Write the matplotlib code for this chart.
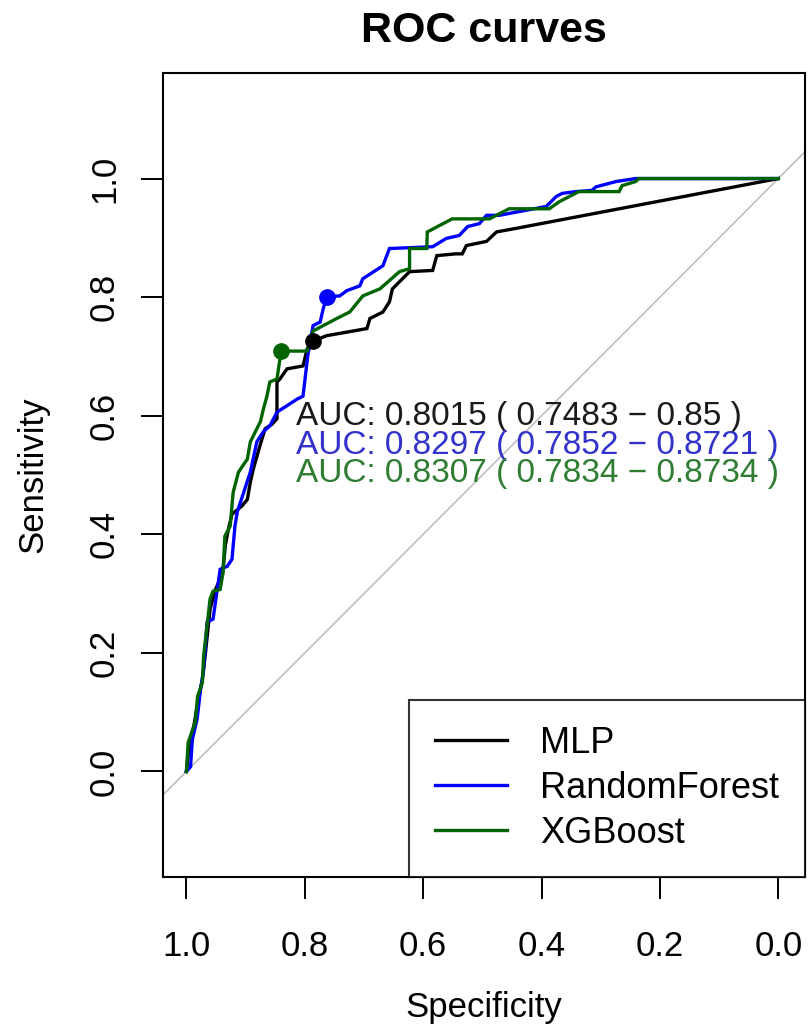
import matplotlib
matplotlib.use("Agg")
import matplotlib.pyplot as plt

plt.rcParams['font.family'] = ['Liberation Sans', 'DejaVu Sans']

# ---- data (specificity, sensitivity) ----
mlp_spec = [1.0, 0.995, 0.987, 0.980, 0.973, 0.968, 0.960, 0.951, 0.939, 0.934, 0.929, 0.923,
            0.906, 0.897, 0.892, 0.887, 0.875, 0.867, 0.855, 0.847, 0.847, 0.842, 0.830, 0.803,
            0.796, 0.786, 0.763, 0.695, 0.690, 0.668, 0.657, 0.652, 0.635, 0.623, 0.584, 0.577,
            0.545, 0.534, 0.527, 0.493, 0.476, 0.443, 0.0]
mlp_sens = [0.0, 0.046, 0.079, 0.122, 0.155, 0.198, 0.274, 0.307, 0.333, 0.383, 0.409, 0.434,
            0.448, 0.459, 0.488, 0.510, 0.552, 0.578, 0.586, 0.595, 0.657, 0.662, 0.679, 0.684,
            0.713, 0.726, 0.735, 0.747, 0.764, 0.775, 0.792, 0.814, 0.831, 0.843, 0.845, 0.870,
            0.873, 0.873, 0.887, 0.894, 0.910, 0.916, 1.0]

rf_spec = [1.0, 0.993, 0.990, 0.982, 0.976, 0.971, 0.965, 0.955, 0.943, 0.931, 0.923, 0.918,
           0.914, 0.892, 0.881, 0.870, 0.859, 0.847, 0.830, 0.813, 0.803, 0.795, 0.786, 0.774,
           0.769, 0.763, 0.741, 0.729, 0.707, 0.702, 0.668, 0.657, 0.584, 0.561, 0.539, 0.525,
           0.505, 0.493, 0.471, 0.392, 0.375, 0.365, 0.342, 0.315, 0.308, 0.274, 0.241, 0.0]
rf_sens = [0.0, 0.008, 0.054, 0.088, 0.139, 0.172, 0.252, 0.257, 0.341, 0.346, 0.358, 0.414,
           0.438, 0.505, 0.556, 0.573, 0.583, 0.606, 0.617, 0.628, 0.633, 0.701, 0.752, 0.758,
           0.780, 0.801, 0.802, 0.811, 0.819, 0.831, 0.853, 0.882, 0.885, 0.899, 0.904, 0.919,
           0.924, 0.938, 0.938, 0.953, 0.970, 0.975, 0.978, 0.980, 0.986, 0.995, 1.0, 1.0]

xgb_spec = [1.0, 0.997, 0.985, 0.981, 0.973, 0.971, 0.960, 0.955, 0.943, 0.938, 0.935, 0.926,
            0.921, 0.912, 0.897, 0.892, 0.875, 0.870, 0.864, 0.859, 0.847, 0.840, 0.796, 0.786,
            0.746, 0.724, 0.702, 0.673, 0.640, 0.623, 0.623, 0.594, 0.593, 0.572, 0.551, 0.488,
            0.455, 0.387, 0.370, 0.337, 0.269, 0.264, 0.241, 0.236, 0.0]
xgb_sens = [0.0, 0.049, 0.083, 0.127, 0.150, 0.194, 0.291, 0.304, 0.307, 0.336, 0.397, 0.414,
            0.471, 0.505, 0.527, 0.556, 0.590, 0.611, 0.633, 0.657, 0.662, 0.709, 0.709, 0.743,
            0.764, 0.775, 0.802, 0.814, 0.843, 0.848, 0.882, 0.882, 0.910, 0.921, 0.932, 0.932,
            0.949, 0.949, 0.961, 0.978, 0.978, 0.988, 0.995, 1.0, 1.0]

models = ['MLP', 'RandomForest', 'XGBoost']
colors = ['black', 'blue', '#006400']
best_spec = [0.786, 0.763, 0.840]
best_sens = [0.726, 0.801, 0.709]
auc_labels = ['AUC: 0.8015 ( 0.7483 \u2212 0.85 )',
              'AUC: 0.8297 ( 0.7852 \u2212 0.8721 )',
              'AUC: 0.8307 ( 0.7834 \u2212 0.8734 )']
auc_text_colors = ['#1a1a1a', '#3333cc', '#2e7d32']
xticks = [1.0, 0.8, 0.6, 0.4, 0.2, 0.0]
yticks = [0.0, 0.2, 0.4, 0.6, 0.8, 1.0]

fig = plt.figure(figsize=(8.10, 10.34), dpi=100)
ax = fig.add_axes([0.2009, 0.1518, 0.7929, 0.7776])

ax.set_xlim(1.04, -0.045)
ax.set_ylim(-0.178, 1.178)

# diagonal reference line
ax.plot([1.2, -0.2], [-0.2, 1.2], color='#bebebe', lw=1.2, zorder=1)

curves = [(mlp_spec, mlp_sens), (rf_spec, rf_sens), (xgb_spec, xgb_sens)]
for (sp, se), c, m in zip(curves, colors, models):
    ax.plot(sp, se, color=c, lw=2.4, label=m, zorder=3, solid_joinstyle='miter')

for bs, bz, c in zip(best_spec, best_sens, colors):
    ax.plot([bs], [bz], 'o', color=c, ms=11, zorder=4)

auc_y = [0.598, 0.550, 0.502]
for lab, c, yy in zip(auc_labels, auc_text_colors, auc_y):
    ax.text(0.815, yy, lab, color=c, fontsize=24, ha='left', va='center', zorder=5)

ax.set_xticks(xticks)
ax.set_xticklabels([f'{v:.1f}' for v in xticks])
ax.set_yticks(yticks)
ax.set_yticklabels([f'{v:.1f}' for v in yticks], rotation=90, va='center')
ax.tick_params(axis='both', labelsize=25, length=16, width=1.4)
ax.tick_params(axis='x', pad=22)
ax.tick_params(axis='y', pad=14)
for s in ax.spines.values():
    s.set_linewidth(1.5)

ax.set_xlabel('Specificity', fontsize=25, labelpad=20)
ax.set_ylabel('Sensitivity', fontsize=25, labelpad=28)
ax.set_title('ROC curves', fontsize=31, fontweight='bold', pad=22)

leg = ax.legend(loc='lower right', fontsize=26, frameon=True, fancybox=False,
                edgecolor='black', borderaxespad=0, handlelength=2.0,
                handletextpad=0.9, borderpad=0.72, labelspacing=0.28)
leg.get_frame().set_linewidth(1.5)
for h in leg.get_lines():
    h.set_linewidth(2.4)

fig.savefig('out.png', dpi=100)
